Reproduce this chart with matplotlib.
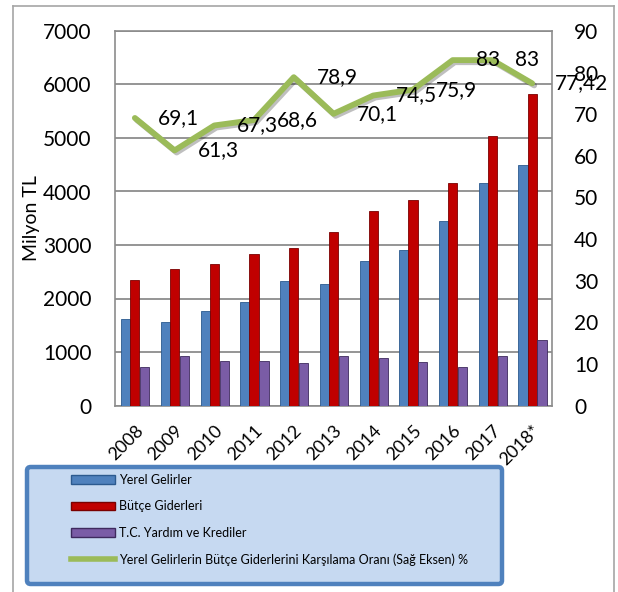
import matplotlib

matplotlib.use("Agg")
import matplotlib.pyplot as plt
import numpy as np
from matplotlib.lines import Line2D
from matplotlib.patches import FancyBboxPatch, Patch
import matplotlib.patheffects as pe

plt.rcParams["font.family"] = ["Lato", "DejaVu Sans"]

years = ["2008", "2009", "2010", "2011", "2012", "2013", "2014", "2015", "2016", "2017", "2018*"]
yerel_gelirler = [1620, 1555, 1770, 1935, 2320, 2270, 2695, 2900, 3445, 4165, 4500]
butce_giderleri = [2345, 2550, 2645, 2830, 2945, 3245, 3630, 3835, 4160, 5035, 5820]
tc_yardim = [725, 925, 832, 832, 790, 925, 888, 808, 720, 925, 1225]
karsilama_orani = [69.1, 61.3, 67.3, 68.6, 78.9, 70.1, 74.5, 75.9, 83, 83, 77.42]
oran_labels = ["69,1", "61,3", "67,3", "68,6", "78,9", "70,1", "74,5", "75,9", "83", "83", "77,42"]

W, H = 618, 592
fig = plt.figure(figsize=(W / 100, H / 100), dpi=100)
ax = fig.add_axes([115 / W, 1 - 405.5 / H, (552 - 115) / W, (405.5 - 31) / H])
ax2 = ax.twinx()

x = np.arange(len(years))
bw = 0.23
ax.bar(x - bw, yerel_gelirler, width=bw, color="#4F81BD", edgecolor="#2C5A8F", linewidth=0.6, zorder=3)
ax.bar(x, butce_giderleri, width=bw, color="#C00000", edgecolor="#7A0000", linewidth=0.6, zorder=3)
ax.bar(x + bw + 0.02, tc_yardim, width=bw, color="#7A5CA6", edgecolor="#3E2A5E", linewidth=0.6, zorder=3)

ax.set_xlim(-0.5, len(years) - 0.5)
ax.set_ylim(0, 7000)
ax.set_yticks(range(0, 7001, 1000))
ax.grid(True, axis="y", color="#8C8C8C", linewidth=1.3, zorder=0)
ax.set_axisbelow(True)
ax.set_xticks(x)
ax.set_xticklabels(years, rotation=45, ha="right", rotation_mode="anchor", fontsize=13)
ax.tick_params(axis="x", length=0, pad=12)
ax.tick_params(axis="y", length=0, pad=17, labelsize=15)
ax.set_ylabel("Milyon TL", fontsize=14, labelpad=2)
for s in ax.spines.values():
    s.set_color("#8C8C8C")
    s.set_linewidth(1.2)
for s in ax2.spines.values():
    s.set_visible(False)

ax2.plot(x, karsilama_orani, color="#9BBB59", linewidth=4.2, solid_joinstyle="round",
         solid_capstyle="round", zorder=5,
         path_effects=[pe.SimpleLineShadow(offset=(1.5, -1.5), alpha=0.25), pe.Normal()])
ax2.set_ylim(0, 90)
ax2.set_yticks(range(0, 91, 10))
ax2.tick_params(axis="y", length=0, pad=16, labelsize=15)
for xi, v, lab in zip(x, karsilama_orani, oran_labels):
    ax2.annotate(lab, (xi, v), xytext=(23, 0), textcoords="offset pixels",
                 ha="left", va="center", fontsize=15, zorder=6)

# outer frame
for xs, ys in [((13, 13), (6, H + 5)), ((13, 614), (6, 6)), ((614, 614), (6, H + 5))]:
    fig.add_artist(Line2D([a / W for a in xs], [1 - b / H for b in ys], color="#A6A6A6",
                          linewidth=1.2, transform=fig.transFigure))

# legend box
box = FancyBboxPatch((27 / W, 1 - 584 / H), 475 / W, 117 / H,
                     boxstyle="round,pad=0,rounding_size=0.006",
                     facecolor="#C6D9F1", edgecolor="#4F81BD", linewidth=3.2,
                     transform=fig.transFigure, zorder=1)
fig.add_artist(box)
handles = [
    Patch(facecolor="#4F81BD", edgecolor="#2C5A8F"),
    Patch(facecolor="#C00000", edgecolor="#7A0000"),
    Patch(facecolor="#7A5CA6", edgecolor="#3E2A5E"),
    Line2D([], [], color="#9BBB59", linewidth=4),
]
labels = ["Yerel Gelirler", "Bütçe Giderleri", "T.C. Yardım ve Krediler",
          "Yerel Gelirlerin Bütçe Giderlerini Karşılama Oranı (Sağ Eksen) %"]
fig.legend(handles, labels, loc="upper left", bbox_to_anchor=(71 / W, 1 - 474 / H),
           frameon=False, fontsize=9, handlelength=3.5, handleheight=0.7,
           handletextpad=0.35, labelspacing=1.15, borderpad=0, borderaxespad=0)

fig.savefig("out.png", dpi=100)
